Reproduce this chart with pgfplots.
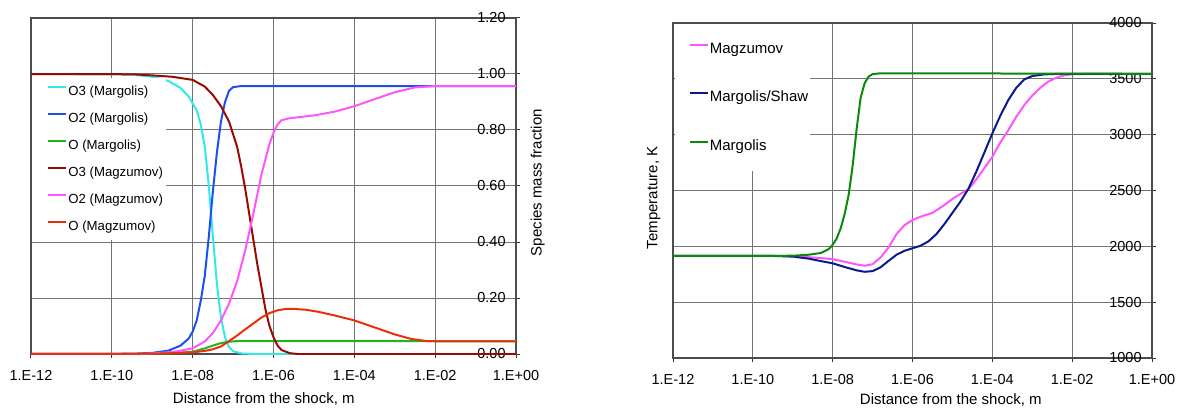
\documentclass[border=0pt]{standalone}
\usepackage{fontspec}
\setmainfont{Liberation Sans}
\usepackage{pgfplots}
\pgfplotsset{compat=1.18}

\definecolor{cOthreeA}{HTML}{33E8E8}
\definecolor{cOtwoA}{HTML}{1A4FF0}
\definecolor{cOA}{HTML}{20B520}
\definecolor{cOthreeB}{HTML}{990A00}
\definecolor{cOtwoB}{HTML}{FF55FF}
\definecolor{cOB}{HTML}{E8300A}
\definecolor{tMag}{HTML}{FF55FF}
\definecolor{tMS}{HTML}{0A1A8C}
\definecolor{tMar}{HTML}{0A8A0A}

\pgfplotsset{
  panel/.style={
    scale only axis,
    xmin=-12, xmax=0,
    xtick={-12,-10,...,0},
    xticklabels={1.E-12,1.E-10,1.E-08,1.E-06,1.E-04,1.E-02,1.E+00},
    grid=major, major grid style={black!55, line width=0.5pt},
    axis line style={black!70, line width=0.6pt},
    tick style={black!80, line width=0.5pt},
    major tick length=2pt, tick align=outside,
    xtick pos=left, ytick pos=right, yticklabel pos=right,
    tick label style={font=\fontsize{7.25}{8}\selectfont},
    xticklabel style={inner sep=0pt, anchor=north, yshift=-6pt},
    yticklabel style={inner sep=0pt, anchor=east, xshift=-7pt},
    label style={font=\fontsize{7.5}{9}\selectfont},
    /pgf/number format/assume math mode=true,
    /pgf/number format/1000 sep={},
    every axis plot/.append style={line width=1pt, no markers},
    legend cell align=left,
    legend image code/.code={\path (-6pt,0pt); \draw[##1] (0pt,2.4pt) -- (9pt,2.4pt);},
  },
}

\begin{document}
\begin{tikzpicture}
\useasboundingbox (0,0) rectangle (588.5pt,203.5pt);

% left: species mass fractions
\begin{axis}[panel,
  at={(15.5pt,26.5pt)}, anchor=south west,
  width=242.5pt, height=168pt,
  ymin=0, ymax=1.2, ytick={0,0.2,...,1.2},
  yticklabel style={/pgf/number format/.cd, fixed, fixed zerofill, precision=2},
  xlabel={Distance from the shock, m},
  xlabel style={at={(axis description cs:0.48,-0.134)}, anchor=center},
  ylabel={Species mass fraction},
  ylabel style={at={(axis description cs:1.045,0.51)}, anchor=center},
  legend style={at={(axis description cs:0.002,0.8214)}, anchor=north west,
    draw=none, fill=white, inner xsep=1.5pt, inner ysep=3.5pt,
    font=\fontsize{6.6}{7}\selectfont,
    nodes={inner sep=0pt, text height=5pt, text depth=1.5pt},
    row sep=7pt, column sep=0.5pt},
]
\addplot[cOthreeA] coordinates {(-12,1.0) (-9.5,0.998) (-9,0.99) (-8.6,0.975) (-8.3,0.95) (-8.1,0.92) (-7.9,0.87) (-7.8,0.82) (-7.7,0.74) (-7.6,0.60) (-7.5,0.42) (-7.4,0.25) (-7.3,0.13) (-7.2,0.06) (-7.1,0.025) (-7.0,0.01) (-6.8,0.002) (-6.5,0) (0,0)};
\addlegendentry{O3 (Margolis)}
\addplot[cOtwoA] coordinates {(-12,0) (-9.5,0.001) (-9,0.004) (-8.6,0.012) (-8.3,0.03) (-8.1,0.055) (-8,0.08) (-7.9,0.12) (-7.8,0.19) (-7.7,0.28) (-7.6,0.42) (-7.5,0.58) (-7.4,0.72) (-7.3,0.83) (-7.2,0.9) (-7.1,0.94) (-7.0,0.953) (-6.8,0.957) (0,0.957)};
\addlegendentry{O2 (Margolis)}
\addplot[cOA] coordinates {(-12,0) (-9,0.001) (-8.5,0.003) (-8,0.008) (-7.7,0.02) (-7.5,0.03) (-7.3,0.039) (-7.1,0.044) (-6.9,0.046) (0,0.046)};
\addlegendentry{O (Margolis)}
\addplot[cOthreeB] coordinates {(-12,1.0) (-9.5,0.999) (-9,0.995) (-8.5,0.99) (-8,0.979) (-7.7,0.955) (-7.5,0.925) (-7.3,0.885) (-7.1,0.83) (-6.9,0.74) (-6.8,0.67) (-6.7,0.59) (-6.6,0.50) (-6.5,0.41) (-6.4,0.32) (-6.3,0.24) (-6.2,0.16) (-6.1,0.10) (-6.0,0.06) (-5.9,0.03) (-5.8,0.014) (-5.6,0.003) (-5.4,0) (0,0)};
\addlegendentry{O3 (Magzumov)}
\addplot[cOtwoB] coordinates {(-12,0) (-9.5,0.0005) (-9,0.002) (-8.5,0.007) (-8,0.02) (-7.7,0.045) (-7.5,0.075) (-7.3,0.12) (-7.1,0.18) (-6.9,0.26) (-6.7,0.37) (-6.5,0.5) (-6.3,0.64) (-6.1,0.75) (-6.0,0.79) (-5.9,0.82) (-5.8,0.835) (-5.6,0.842) (-5.3,0.847) (-5,0.852) (-4.5,0.865) (-4,0.885) (-3.5,0.91) (-3,0.935) (-2.5,0.952) (-2,0.957) (0,0.957)};
\addlegendentry{O2 (Magzumov)}
\addplot[cOB] coordinates {(-12,0) (-9,0.001) (-8.5,0.003) (-8,0.006) (-7.7,0.011) (-7.5,0.017) (-7.3,0.027) (-7.1,0.046) (-6.9,0.066) (-6.7,0.088) (-6.5,0.109) (-6.3,0.13) (-6.1,0.146) (-5.9,0.156) (-5.7,0.161) (-5.5,0.161) (-5.2,0.158) (-4.9,0.151) (-4.5,0.138) (-4.0,0.12) (-3.5,0.095) (-3.0,0.07) (-2.6,0.054) (-2.2,0.046) (-1.8,0.045) (0,0.045)};
\addlegendentry{O (Magzumov)}
\end{axis}

% right: temperature
\begin{axis}[panel,
  at={(336.5pt,24.5pt)}, anchor=south west,
  width=239.5pt, height=167.5pt,
  ymin=1000, ymax=4000, ytick={1000,1500,...,4000},
  xlabel={Distance from the shock, m},
  xlabel style={at={(axis description cs:0.58,-0.124)}, anchor=center},
  ylabel={Temperature, K},
  ylabel style={at={(axis description cs:-0.04,0.478)}, anchor=center},
  legend style={at={(axis description cs:0.003,0.997)}, anchor=north west,
    draw=none, fill=white, inner xsep=1pt, inner ysep=9pt,
    font=\fontsize{7.5}{8}\selectfont,
    nodes={inner sep=0pt, text height=5.5pt, text depth=1.6pt},
    row sep=17.1pt, column sep=0.5pt},
]
\addplot[tMag] coordinates {(-12,1915) (-9.5,1915) (-9,1912) (-8.6,1903) (-8.3,1895) (-8,1885) (-7.7,1862) (-7.4,1838) (-7.2,1826) (-7.0,1840) (-6.8,1900) (-6.6,1990) (-6.4,2110) (-6.2,2190) (-6.0,2236) (-5.8,2265) (-5.5,2300) (-5.2,2370) (-5.0,2425) (-4.8,2470) (-4.6,2510) (-4.4,2600) (-4.2,2700) (-4.0,2802) (-3.8,2930) (-3.6,3040) (-3.4,3160) (-3.2,3265) (-3.0,3350) (-2.8,3420) (-2.6,3475) (-2.4,3510) (-2.2,3532) (-2.0,3541) (-1.5,3545) (0,3545)};
\addlegendentry{Magzumov}
\addplot[tMS] coordinates {(-12,1915) (-9.5,1914) (-9,1908) (-8.6,1890) (-8.3,1868) (-8.0,1848) (-7.7,1815) (-7.4,1785) (-7.2,1772) (-7.0,1778) (-6.8,1812) (-6.6,1870) (-6.4,1925) (-6.2,1960) (-6.0,1983) (-5.8,2005) (-5.6,2045) (-5.4,2110) (-5.2,2200) (-5.0,2300) (-4.8,2400) (-4.6,2515) (-4.4,2670) (-4.2,2840) (-4.0,3011) (-3.8,3170) (-3.6,3310) (-3.4,3420) (-3.2,3495) (-3.0,3525) (-2.7,3540) (-2.3,3545) (0,3545)};
\addlegendentry{Margolis/Shaw}
\addplot[tMar] coordinates {(-12,1915) (-9.5,1915) (-9,1916) (-8.6,1925) (-8.3,1940) (-8.1,1975) (-8.0,2013) (-7.9,2070) (-7.8,2160) (-7.7,2290) (-7.6,2460) (-7.5,2720) (-7.4,3050) (-7.3,3330) (-7.2,3460) (-7.1,3520) (-7.0,3542) (-6.8,3550) (0,3545)};
\addlegendentry{Margolis}
\end{axis}
\end{tikzpicture}
\end{document}
